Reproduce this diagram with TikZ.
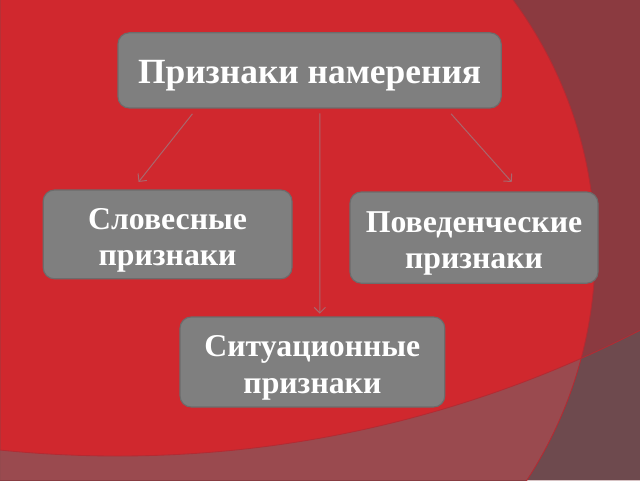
\documentclass[tikz,border=0pt]{standalone}
\usepackage{fontspec}
\setmainfont{Liberation Serif}
\usetikzlibrary{arrows.meta,calc}
\definecolor{slidered}{HTML}{D0282E}
\definecolor{sidedark}{HTML}{8B3A40}
\definecolor{floordark}{HTML}{9A4A4F}
\definecolor{cornerdark}{HTML}{6E4A4E}
\definecolor{arcedge}{HTML}{B42A32}
\definecolor{boxgray}{HTML}{7F7F7F}
\definecolor{boxedge}{HTML}{6C6C6C}
\definecolor{linkpink}{HTML}{A8686E}
\newcommand{\signFont}[1]{\fontsize{#1}{26}\selectfont\bfseries}
\newcommand{\signText}[1]{\raisebox{0pt}[\dimexpr\height+8pt\relax][\depth]{\begin{tabular}{@{}c@{}}#1\end{tabular}}}
\tikzset{
  signbox/.style={draw=boxedge, fill=boxgray, rounded corners=8pt, line width=0.8pt,
    align=center, inner sep=0pt, text=white, font=\signFont{22.6}},
  signlink/.style={draw=linkpink, line width=0.7pt, -{Straight Barb[length=4pt,width=8pt]}}
}

\begin{document}
\begin{tikzpicture}
\useasboundingbox (0,0) rectangle (16,12);
\clip (0,0) rectangle (16,12);
% slide background
\fill[slidered] (0,0) rectangle (16,12);
\fill[sidedark,even odd rule] (0,0) rectangle (16,12) (4.34,5.75) circle (10.54);
\fill[floordark,even odd rule] (0,0) rectangle (16,12) (2.94,29.25) circle (28.65);
\begin{scope}[even odd rule]
\clip (0,0) rectangle (16,12) (4.34,5.75) circle (10.54);
\fill[cornerdark] (0,0) rectangle (16,12) (2.94,29.25) circle (28.65);
\end{scope}
\draw[arcedge, line width=0.6pt] (4.34,5.75) circle (10.54);
\draw[arcedge, line width=0.6pt] (2.94,29.25) circle (28.65);

% boxes
\node[signbox, minimum width=9.58cm, minimum height=1.88cm, font=\signFont{25.2}] (intent) at (7.74,10.24) {\signText{Признаки намерения}};
\node[signbox, minimum width=6.22cm, minimum height=2.22cm] (verbal) at (4.19,6.14) {\signText{Словесные\\признаки}};
\node[signbox, minimum width=6.20cm, minimum height=2.28cm] (behaviour) at (11.85,6.06) {\signText{Поведенческие\\признаки}};
\node[signbox, minimum width=6.62cm, minimum height=2.25cm] (situation) at (7.81,2.95) {\signText{Ситуационные\\признаки}};

% links
\draw[signlink, shorten <=4.8pt, shorten >=6.8pt] ($(intent.south west)!0.206!(intent.south east)$) -- ($(verbal.north west)!0.36!(verbal.north east)$);
\draw[signlink, shorten <=3.5pt, shorten >=2pt] ($(intent.south west)!0.527!(intent.south east)$) -- ($(situation.north west)!0.528!(situation.north east)$);
\draw[signlink, shorten <=5pt, shorten >=9pt] ($(intent.south west)!0.856!(intent.south east)$) -- ($(behaviour.north west)!0.685!(behaviour.north east)$);
\end{tikzpicture}
\end{document}
